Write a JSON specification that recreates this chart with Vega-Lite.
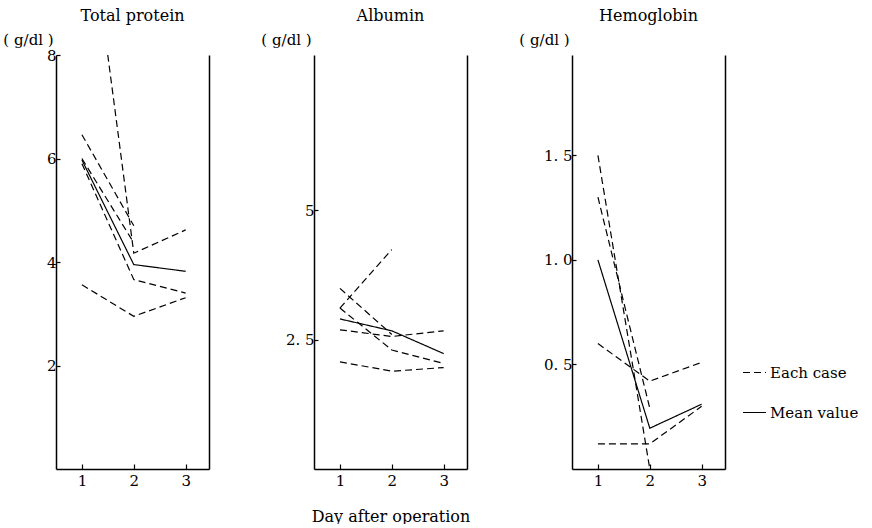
{
  "$schema": "https://vega.github.io/schema/vega-lite/v6.json",
  "padding": {"left": 2, "top": 8, "right": 0, "bottom": 0},
  "background": "white",
  "config": {
    "font": "DejaVu Serif",
    "view": {"stroke": null},
    "axis": {
      "domainColor": "black", "domainWidth": 1.5, "tickColor": "black", "tickWidth": 1.2,
      "labelColor": "black", "labelFont": "DejaVu Serif", "labelFontSize": 15,
      "titleFont": "DejaVu Serif", "titleFontSize": 15, "titleFontWeight": "normal", "titleColor": "black",
      "grid": false, "labelFlush": false, "labelOverlap": false
    },
    "title": {"font": "DejaVu Serif", "fontSize": 16, "fontWeight": "normal", "color": "black"}
  },
  "datasets": {
    "d": [
      {"panel": "TP", "case": "A", "type": "Each case", "day": 1, "value": 11.8},
      {"panel": "TP", "case": "A", "type": "Each case", "day": 2, "value": 4.17},
      {"panel": "TP", "case": "A", "type": "Each case", "day": 3, "value": 4.62},
      {"panel": "TP", "case": "B", "type": "Each case", "day": 1, "value": 6.46},
      {"panel": "TP", "case": "B", "type": "Each case", "day": 2, "value": 4.70},
      {"panel": "TP", "case": "C", "type": "Each case", "day": 1, "value": 6.0},
      {"panel": "TP", "case": "C", "type": "Each case", "day": 2, "value": 4.37},
      {"panel": "TP", "case": "D", "type": "Each case", "day": 1, "value": 5.9},
      {"panel": "TP", "case": "D", "type": "Each case", "day": 2, "value": 3.66},
      {"panel": "TP", "case": "D", "type": "Each case", "day": 3, "value": 3.40},
      {"panel": "TP", "case": "E", "type": "Each case", "day": 1, "value": 3.56},
      {"panel": "TP", "case": "E", "type": "Each case", "day": 2, "value": 2.95},
      {"panel": "TP", "case": "E", "type": "Each case", "day": 3, "value": 3.31},
      {"panel": "TP", "case": "M", "type": "Mean value", "day": 1, "value": 5.97},
      {"panel": "TP", "case": "M", "type": "Mean value", "day": 2, "value": 3.95},
      {"panel": "TP", "case": "M", "type": "Mean value", "day": 3, "value": 3.82},

      {"panel": "ALB", "case": "R", "type": "Each case", "day": 1, "value": 3.11},
      {"panel": "ALB", "case": "R", "type": "Each case", "day": 2, "value": 4.24},
      {"panel": "ALB", "case": "P", "type": "Each case", "day": 1, "value": 3.49},
      {"panel": "ALB", "case": "P", "type": "Each case", "day": 2, "value": 2.60},
      {"panel": "ALB", "case": "Q", "type": "Each case", "day": 1, "value": 3.11},
      {"panel": "ALB", "case": "Q", "type": "Each case", "day": 2, "value": 2.30},
      {"panel": "ALB", "case": "Q", "type": "Each case", "day": 3, "value": 2.04},
      {"panel": "ALB", "case": "S", "type": "Each case", "day": 1, "value": 2.69},
      {"panel": "ALB", "case": "S", "type": "Each case", "day": 2, "value": 2.56},
      {"panel": "ALB", "case": "S", "type": "Each case", "day": 3, "value": 2.67},
      {"panel": "ALB", "case": "T", "type": "Each case", "day": 1, "value": 2.07},
      {"panel": "ALB", "case": "T", "type": "Each case", "day": 2, "value": 1.89},
      {"panel": "ALB", "case": "T", "type": "Each case", "day": 3, "value": 1.96},
      {"panel": "ALB", "case": "M", "type": "Mean value", "day": 1, "value": 2.90},
      {"panel": "ALB", "case": "M", "type": "Mean value", "day": 2, "value": 2.67},
      {"panel": "ALB", "case": "M", "type": "Mean value", "day": 3, "value": 2.23},

      {"panel": "HB", "case": "A", "type": "Each case", "day": 1, "value": 1.5},
      {"panel": "HB", "case": "A", "type": "Each case", "day": 2, "value": 0.0},
      {"panel": "HB", "case": "B", "type": "Each case", "day": 1, "value": 1.3},
      {"panel": "HB", "case": "B", "type": "Each case", "day": 2, "value": 0.29},
      {"panel": "HB", "case": "C", "type": "Each case", "day": 1, "value": 0.60},
      {"panel": "HB", "case": "C", "type": "Each case", "day": 2, "value": 0.42},
      {"panel": "HB", "case": "C", "type": "Each case", "day": 3, "value": 0.51},
      {"panel": "HB", "case": "D", "type": "Each case", "day": 1, "value": 0.12},
      {"panel": "HB", "case": "D", "type": "Each case", "day": 2, "value": 0.12},
      {"panel": "HB", "case": "D", "type": "Each case", "day": 3, "value": 0.30},
      {"panel": "HB", "case": "M", "type": "Mean value", "day": 1, "value": 1.0},
      {"panel": "HB", "case": "M", "type": "Mean value", "day": 2, "value": 0.195},
      {"panel": "HB", "case": "M", "type": "Mean value", "day": 3, "value": 0.31}
    ]
  },
  "data": {"name": "d"},
  "spacing": 105,
  "bounds": "flush",
  "resolve": {"scale": {"x": "independent", "y": "independent", "strokeDash": "shared"}},
  "hconcat": [
    {
      "width": 153, "height": 414,
      "title": {"text": "Total protein", "frame": "group", "anchor": "middle", "offset": 8},
      "transform": [{"filter": "datum.panel == 'TP'"}],
      "layer": [
        {
          "mark": {"type": "line", "clip": true, "color": "black", "strokeWidth": 1.2},
          "encoding": {
            "x": {"field": "day", "type": "quantitative", "scale": {"domain": [0.5, 3.45], "zero": false, "nice": false},
                  "axis": {"values": [1, 2, 3], "format": "d", "tickSize": -5, "labelPadding": 9, "title": null}},
            "y": {"field": "value", "type": "quantitative", "scale": {"domain": [0, 8], "nice": false},
                  "axis": {"values": [2, 4, 6, 8], "format": "d", "tickSize": -4, "labelPadding": 4,
                           "title": "( g/dl )", "titleAngle": 0, "titleX": -28, "titleY": -16, "titleAlign": "center", "titleBaseline": "middle"}},
            "detail": {"field": "case"},
            "strokeDash": {"field": "type", "type": "nominal",
                           "scale": {"domain": ["Each case", "Mean value"], "range": [[7, 4], [1, 0]]},
                           "legend": {"orient": "none", "legendX": 686, "legendY": 305, "title": null,
                                      "symbolType": "stroke", "symbolStrokeColor": "black", "symbolSize": 529,
                                      "symbolStrokeWidth": 1.2, "labelFont": "DejaVu Serif", "labelFontSize": 15,
                                      "labelColor": "black", "rowPadding": 19, "padding": 0, "labelOffset": 3}}
          }
        },
        {
          "mark": {"type": "line", "opacity": 0, "clip": true},
          "encoding": {
            "x": {"field": "day", "type": "quantitative", "scale": {"domain": [0.5, 3.45], "zero": false, "nice": false}},
            "y": {"field": "value", "type": "quantitative", "scale": {"domain": [0, 8], "nice": false},
                  "axis": {"orient": "right", "labels": false, "ticks": false, "title": null}}
          }
        }
      ],
      "resolve": {"axis": {"y": "independent"}}
    },
    {
      "width": 153, "height": 414,
      "title": {"text": "Albumin", "frame": "group", "anchor": "middle", "offset": 8},
      "transform": [{"filter": "datum.panel == 'ALB'"}],
      "layer": [
        {
          "mark": {"type": "line", "clip": true, "color": "black", "strokeWidth": 1.2},
          "encoding": {
            "x": {"field": "day", "type": "quantitative", "scale": {"domain": [0.5, 3.45], "zero": false, "nice": false},
                  "axis": {"values": [1, 2, 3], "format": "d", "tickSize": -5, "labelPadding": 9,
                           "title": "Day after operation", "titleFontSize": 16, "titlePadding": 20}},
            "y": {"field": "value", "type": "quantitative", "scale": {"domain": [0, 8], "nice": false},
                  "axis": {"values": [2.5, 5], "labelExpr": "datum.value == 2.5 ? '2. 5' : '5'", "tickSize": -4, "labelPadding": 4,
                           "title": "( g/dl )", "titleAngle": 0, "titleX": -28, "titleY": -16, "titleAlign": "center", "titleBaseline": "middle"}},
            "detail": {"field": "case"},
            "strokeDash": {"field": "type", "type": "nominal"}
          }
        },
        {
          "mark": {"type": "line", "opacity": 0, "clip": true},
          "encoding": {
            "x": {"field": "day", "type": "quantitative", "scale": {"domain": [0.5, 3.45], "zero": false, "nice": false}},
            "y": {"field": "value", "type": "quantitative", "scale": {"domain": [0, 8], "nice": false},
                  "axis": {"orient": "right", "labels": false, "ticks": false, "title": null}}
          }
        }
      ],
      "resolve": {"axis": {"y": "independent"}}
    },
    {
      "width": 153, "height": 414,
      "title": {"text": "Hemoglobin", "frame": "group", "anchor": "middle", "offset": 8},
      "transform": [{"filter": "datum.panel == 'HB'"}],
      "layer": [
        {
          "mark": {"type": "line", "clip": true, "color": "black", "strokeWidth": 1.2},
          "encoding": {
            "x": {"field": "day", "type": "quantitative", "scale": {"domain": [0.5, 3.45], "zero": false, "nice": false},
                  "axis": {"values": [1, 2, 3], "format": "d", "tickSize": -5, "labelPadding": 9, "title": null}},
            "y": {"field": "value", "type": "quantitative", "scale": {"domain": [0, 1.98], "nice": false},
                  "axis": {"values": [0.5, 1.0, 1.5], "labelExpr": "replace(format(datum.value, '.1f'), '.', '. ')", "tickSize": -4, "labelPadding": 4,
                           "title": "( g/dl )", "titleAngle": 0, "titleX": -28, "titleY": -16, "titleAlign": "center", "titleBaseline": "middle"}},
            "detail": {"field": "case"},
            "strokeDash": {"field": "type", "type": "nominal"}
          }
        },
        {
          "mark": {"type": "line", "opacity": 0, "clip": true},
          "encoding": {
            "x": {"field": "day", "type": "quantitative", "scale": {"domain": [0.5, 3.45], "zero": false, "nice": false}},
            "y": {"field": "value", "type": "quantitative", "scale": {"domain": [0, 1.98], "nice": false},
                  "axis": {"orient": "right", "labels": false, "ticks": false, "title": null}}
          }
        }
      ],
      "resolve": {"axis": {"y": "independent"}}
    }
  ]
}
